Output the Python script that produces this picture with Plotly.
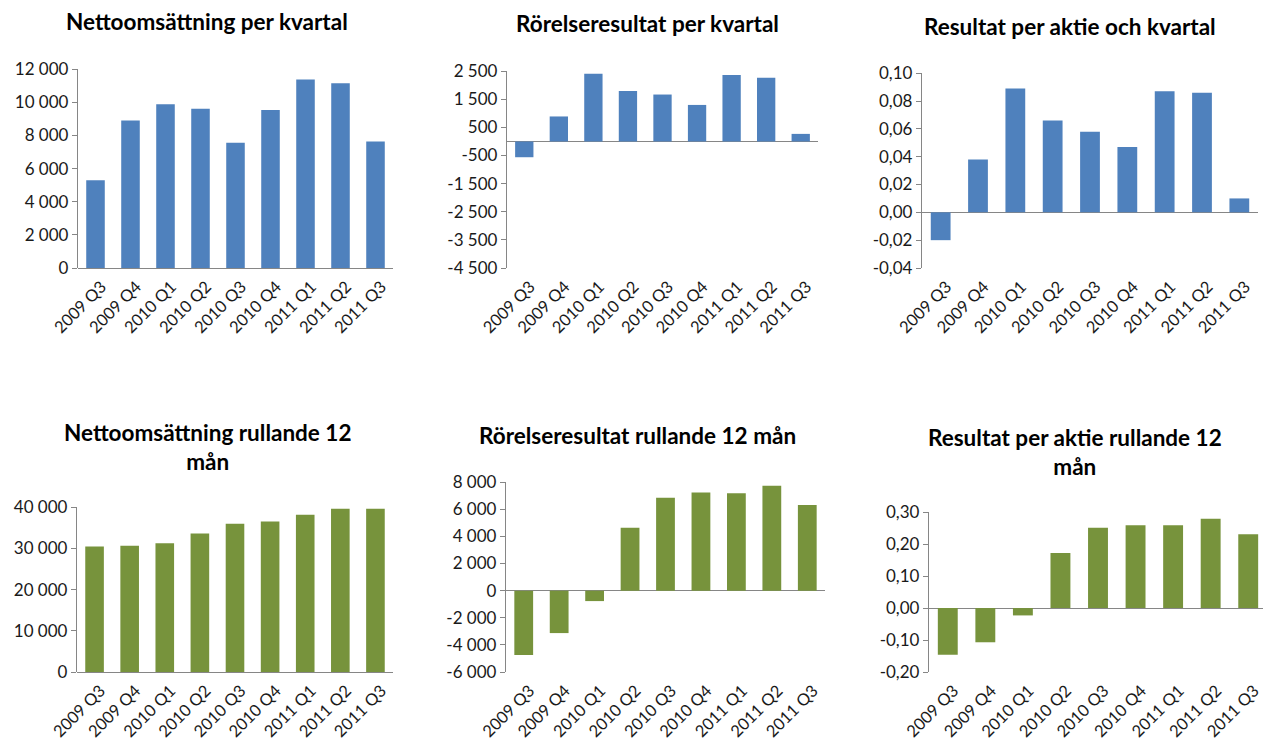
import plotly.graph_objects as go

categories = ["2009 Q3", "2009 Q4", "2010 Q1", "2010 Q2", "2010 Q3",
              "2010 Q4", "2011 Q1", "2011 Q2", "2011 Q3"]

netto_kvartal = [5290, 8900, 9880, 9610, 7560, 9530, 11380, 11150, 7640]
rorelse_kvartal = [-560, 890, 2410, 1800, 1670, 1300, 2365, 2270, 270]
rpa_kvartal = [-0.020, 0.038, 0.089, 0.066, 0.058, 0.047, 0.087, 0.086, 0.010]
netto_r12 = [30470, 30630, 31270, 33620, 35960, 36520, 38140, 39600, 39600]
rorelse_r12 = [-4750, -3130, -770, 4640, 6850, 7240, 7190, 7730, 6310]
rpa_r12 = [-0.146, -0.107, -0.023, 0.172, 0.251, 0.259, 0.259, 0.279, 0.231]

titles = ["Nettoomsättning per kvartal", "Rörelseresultat per kvartal",
          "Resultat per aktie och kvartal", "Nettoomsättning rullande 12<br>mån",
          "Rörelseresultat rullande 12 mån", "Resultat per aktie rullande 12<br>mån"]

ticks1 = [0, 2000, 4000, 6000, 8000, 10000, 12000]
ticks2 = [-4500, -3500, -2500, -1500, -500, 500, 1500, 2500]
ticks3 = [-0.04, -0.02, 0.0, 0.02, 0.04, 0.06, 0.08, 0.10]
ticks4 = [0, 10000, 20000, 30000, 40000]
ticks5 = [-6000, -4000, -2000, 0, 2000, 4000, 6000, 8000]
ticks6 = [-0.20, -0.10, 0.0, 0.10, 0.20, 0.30]

BLUE = "#4F81BD"
GREEN = "#77933C"
OFF = 8  # page body margin
W, H = 1271 - OFF, 742 - OFF


def fmt_int(v):
    s = f"{abs(int(v)):,}".replace(",", " ")
    return ("-" if v < 0 else "") + s


def fmt_dec(v):
    s = f"{abs(v):.2f}".replace(".", ",")
    return ("-" if v < -1e-12 else "") + s


panels = [
    (netto_kvartal, BLUE, ticks1, fmt_int, (78, 393), (69, 268), (207, 22)),
    (rorelse_kvartal, BLUE, ticks2, fmt_int, (507, 818), (71, 268), (647, 24)),
    (rpa_kvartal, BLUE, ticks3, fmt_dec, (922, 1258), (73, 268), (1070, 26)),
    (netto_r12, GREEN, ticks4, fmt_int, (77, 393), (507, 672), (207, 447)),
    (rorelse_r12, GREEN, ticks5, fmt_int, (506, 825), (482, 672), (637, 436)),
    (rpa_r12, GREEN, ticks6, fmt_dec, (929, 1267), (512, 672), (1075, 452)),
]


def px(x):
    return (x - OFF) / W


def py(y):
    return 1 - (y - OFF) / H


fig = go.Figure()
FONT = "Lato"
annotations = []
for i, (vals, color, ticks, fmt, xd, yd, tpos) in enumerate(panels):
    n = "" if i == 0 else str(i + 1)
    fig.add_trace(go.Bar(x=categories, y=vals, marker_color=color,
                         marker_line_width=0, xaxis="x" + n, yaxis="y" + n,
                         showlegend=False))
    fig.layout["xaxis" + n] = dict(
        domain=[px(xd[0]), min(px(xd[1]), 1.0)], anchor="y" + n, tickangle=-45,
        showline=False, showgrid=False, zeroline=False, ticks="",
        automargin=False, ticklabelstandoff=5, ticklabelshift=6,
        tickfont=dict(family=FONT, size=16.5, color="#1a1a1a"), type="category",
    )
    span = ticks[-1] - ticks[0]
    fig.layout["yaxis" + n] = dict(
        domain=[py(yd[1]), py(yd[0])], anchor="x" + n,
        range=[ticks[0], ticks[-1] + span * 0.001],
        tickvals=ticks, ticktext=[fmt(t) for t in ticks],
        showline=True, linecolor="#868686", linewidth=1.3,
        ticks="outside", ticklen=5, tickcolor="#868686",
        automargin=False,
        showgrid=False, zeroline=True, zerolinecolor="#868686", zerolinewidth=1.3,
        tickfont=dict(family=FONT, size=17, color="#1a1a1a"),
    )
    annotations.append(dict(text="<b>" + titles[i] + "</b>", x=px(tpos[0]),
                            y=py(tpos[1]), xref="paper", yref="paper",
                            xanchor="center", yanchor="middle", showarrow=False,
                            font=dict(family=FONT, size=22.5, color="black")))

fig.update_layout(template="none", width=W, height=H,
                  margin=dict(l=0, r=0, t=0, b=0, autoexpand=False),
                  plot_bgcolor="white", paper_bgcolor="white",
                  bargap=0.47, annotations=annotations)
fig.write_html("out.html")
